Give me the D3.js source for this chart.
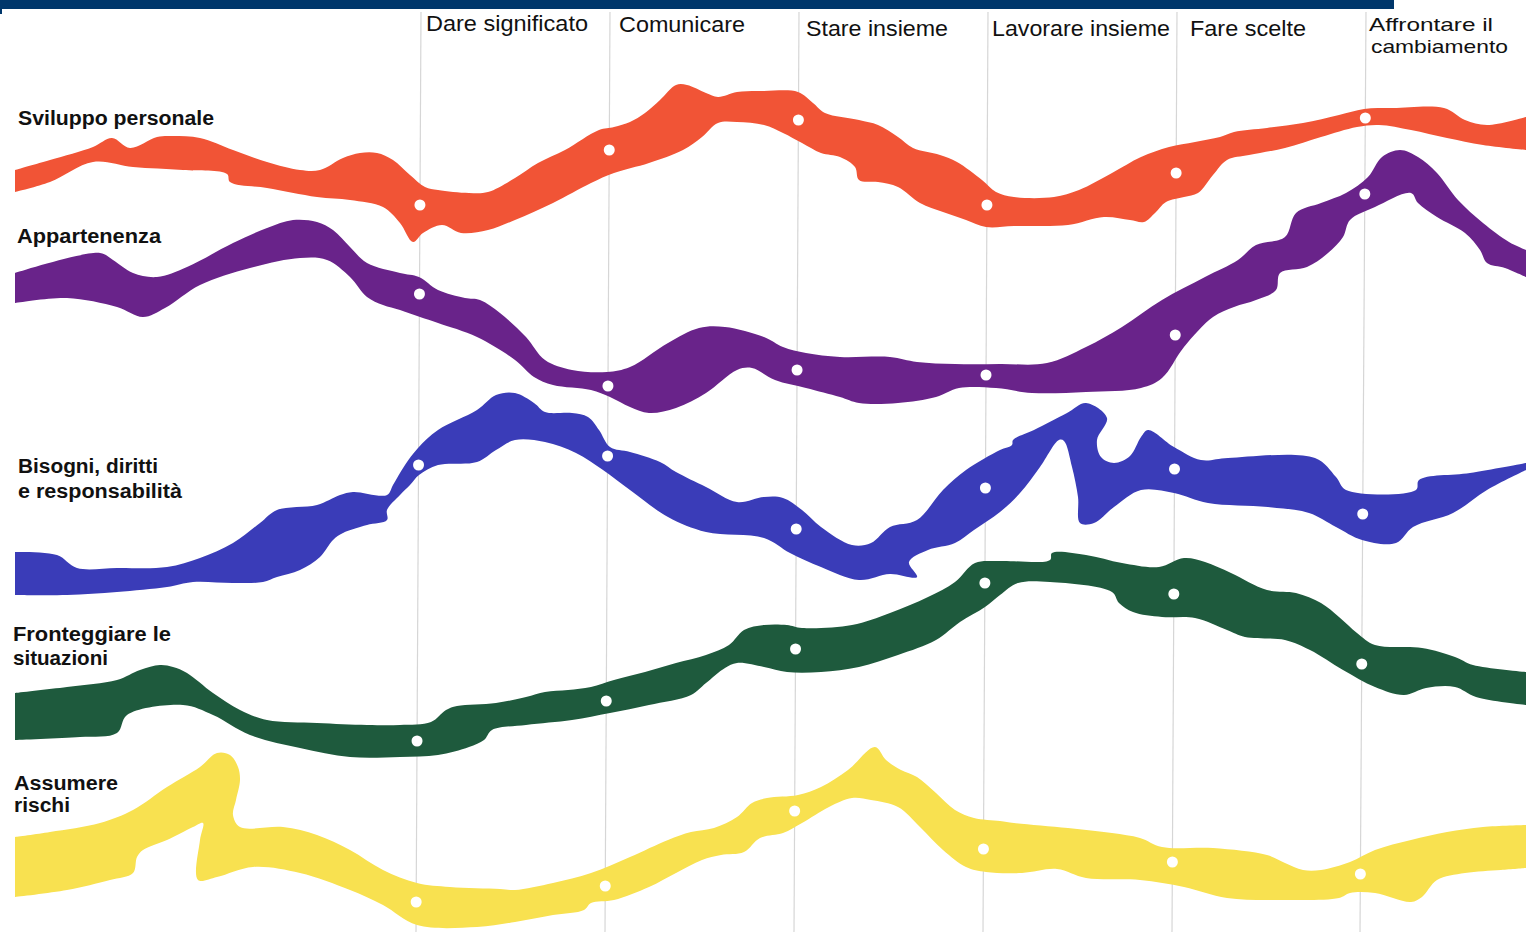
<!DOCTYPE html>
<html><head><meta charset="utf-8">
<script src="https://cdn.jsdelivr.net/npm/d3@7"></script>
<style>html,body{margin:0;padding:0;background:#fff;overflow:hidden}</style>
</head><body><svg id="c" width="1526" height="935"></svg>
<script>
// ---------- DATA ----------
const columns = ["Dare significato", "Comunicare", "Stare insieme", "Lavorare insieme", "Fare scelte", "Affrontare il\ncambiamento"];
const seriesNames = ["Sviluppo personale", "Appartenenza", "Bisogni, diritti\ne responsabilità", "Fronteggiare le\nsituazioni", "Assumere\nrischi"];

// column guide positions (x at top y=12 and at bottom y=932)
const gridTopX = [421, 610, 799, 988, 1177, 1366];
const gridBottomX = [416, 605, 794, 983, 1172, 1360];

// dot levels of each series at each column (y)
const dotsSviluppo = [205, 150, 120, 205, 173, 118];
const dotsAppartenenza = [294, 386, 370, 375, 335, 194];
const dotsBisogni = [465, 456, 529, 488, 469, 514];
const dotsFronteggiare = [741, 701, 649, 583, 594, 664];
const dotsAssumere = [902, 886, 811, 849, 862, 874];

// ribbon outlines [x, y]
const svilTop = [[15,170],[50,160],[93,147],[112,138],[130,148],[157,137],[173,136],[200,138],[233,150],[267,162],[300,170],[320,170],[343,158],[360,153],[377,153],[393,160],[410,175],[425,187],[438,190],[469,193],[488,192],[515,178],[538,163],[565,150],[599,130],[614,127],[630,122],[645,113],[660,100],[676,85],[687,85],[706,93],[718,97],[737,92],[764,91],[798,92],[813,103],[825,113],[859,120],[878,125],[898,137],[913,148],[940,155],[957,162],[982,180],[996,192],[1014,197],[1054,197],[1079,190],[1112,173],[1141,157],[1169,147],[1195,142],[1220,137],[1234,132],[1267,128],[1303,123],[1339,115],[1364,109],[1393,108],[1444,108],[1465,120],[1487,125],[1526,117]];
const svilBottom = [[15,192],[50,182],[93,162],[133,167],[183,170],[227,174],[230,182],[267,188],[317,197],[350,200],[383,207],[400,223],[413,242],[423,233],[442,225],[461,233],[488,230],[515,220],[553,203],[591,183],[614,173],[649,163],[683,150],[702,137],[718,123],[737,122],[764,125],[783,133],[802,143],[821,153],[840,157],[855,167],[859,180],[878,182],[898,187],[920,203],[943,212],[966,220],[986,227],[1014,226],[1068,225],[1104,217],[1130,220],[1144,222],[1155,213],[1166,202],[1184,197],[1198,193],[1213,175],[1227,160],[1249,155],[1285,148],[1321,137],[1357,127],[1379,125],[1411,130],[1447,138],[1483,145],[1526,150]];

const appTop = [[15,273],[100,253],[113,260],[133,273],[157,277],[187,267],[233,243],[267,228],[293,220],[317,222],[333,230],[350,247],[367,263],[400,273],[419,277],[438,290],[465,298],[480,300],[500,313],[526,337],[545,360],[572,370],[607,372],[630,367],[668,343],[699,328],[725,327],[764,337],[783,347],[806,353],[840,357],[890,357],[917,362],[955,364],[1000,364],[1047,363],[1086,347],[1122,327],[1162,300],[1205,277],[1238,260],[1256,245],[1285,237],[1296,213],[1321,203],[1346,193],[1368,177],[1382,157],[1400,150],[1418,157],[1437,173],[1458,200],[1483,223],[1509,242],[1526,250]];
const appBottom = [[15,303],[67,298],[117,307],[143,317],[165,308],[200,285],[250,268],[300,258],[327,260],[350,277],[367,297],[383,305],[400,310],[420,317],[438,323],[477,337],[515,360],[534,377],[553,385],[591,390],[610,397],[630,407],[649,413],[676,408],[706,393],[737,370],[752,368],[775,380],[806,388],[840,397],[859,403],[898,403],[936,397],[959,388],[996,388],[1032,393],[1086,392],[1141,388],[1162,378],[1184,347],[1213,317],[1234,307],[1256,300],[1276,290],[1280,273],[1307,267],[1328,253],[1343,237],[1350,220],[1375,207],[1411,193],[1418,203],[1437,217],[1465,233],[1480,250],[1487,263],[1505,268],[1526,277]];

const bisTop = [[15,552],[57,555],[77,568],[117,568],[167,567],[200,558],[233,543],[260,523],[277,510],[317,505],[340,495],[353,492],[387,495],[393,485],[405,465],[418,448],[438,430],[477,410],[496,395],[515,393],[534,403],[545,412],[572,413],[588,417],[599,430],[610,447],[630,452],[660,462],[676,472],[706,487],[737,502],[764,497],[783,498],[802,510],[821,527],[852,545],[871,543],[890,527],[917,520],[943,490],[966,470],[1000,450],[1012,445],[1013,440],[1034,430],[1067,413],[1086,403],[1107,418],[1097,440],[1101,457],[1114,463],[1130,456],[1141,437],[1148,430],[1174,447],[1201,460],[1228,458],[1315,458],[1336,477],[1346,490],[1416,490],[1419,480],[1470,473],[1526,463]];
const bisBottom = [[15,595],[67,595],[117,592],[167,587],[193,582],[233,583],[263,582],[277,577],[300,570],[320,557],[333,540],[343,533],[367,525],[387,520],[387,510],[400,495],[410,485],[419,475],[438,465],[477,462],[496,450],[515,440],[545,442],[576,453],[603,470],[630,490],[668,517],[706,532],[764,538],[790,553],[821,567],[859,580],[890,574],[917,577],[909,562],[928,550],[955,543],[974,530],[1000,512],[1020,493],[1040,467],[1059,440],[1064,441],[1072,467],[1078,497],[1080,523],[1094,523],[1114,507],[1141,490],[1174,493],[1208,503],[1268,507],[1309,513],[1336,527],[1362,540],[1396,543],[1413,527],[1453,513],[1487,490],[1526,470]];

const froTop = [[15,693],[67,687],[117,680],[140,670],[160,665],[173,667],[187,673],[213,693],[240,710],[267,720],[317,723],[367,725],[400,725],[431,722],[446,710],[457,706],[496,703],[526,697],[545,692],[568,690],[591,687],[614,680],[645,672],[676,663],[706,655],[729,645],[744,630],[764,625],[787,625],[802,628],[852,625],[890,613],[928,597],[955,582],[975,563],[1000,561],[1050,560],[1052,553],[1086,555],[1122,563],[1159,567],[1184,558],[1205,562],[1231,573],[1267,590],[1296,593],[1321,603],[1339,617],[1357,633],[1375,645],[1422,648],[1455,657],[1473,665],[1526,672]];
const froBottom = [[15,740],[80,737],[117,733],[127,715],[183,705],[213,715],[250,735],[300,748],[350,757],[400,757],[438,755],[469,747],[484,740],[492,730],[526,725],[572,720],[610,713],[649,705],[691,695],[706,683],[725,668],[737,663],[764,667],[787,672],[821,672],[859,667],[898,655],[936,640],[960,622],[985,607],[1000,595],[1018,583],[1050,582],[1112,592],[1119,603],[1133,612],[1162,617],[1195,618],[1227,630],[1245,637],[1285,640],[1310,650],[1343,670],[1375,687],[1404,695],[1426,688],[1455,687],[1476,697],[1526,705]];

const assTop = [[15,837],[50,832],[100,823],[133,810],[167,787],[200,767],[217,753],[230,755],[238,767],[240,780],[236,800],[233,815],[240,827],[283,827],[317,835],[350,850],[383,870],[417,883],[450,887],[500,889],[515,890],[553,883],[591,873],[630,857],[668,840],[691,832],[714,828],[737,817],[752,803],[767,798],[798,795],[821,787],[848,770],[875,747],[886,760],[901,770],[917,777],[936,793],[955,810],[974,818],[1000,821],[1014,823],[1068,828],[1112,833],[1140,838],[1162,847],[1213,848],[1267,855],[1285,863],[1303,870],[1321,870],[1350,862],[1375,850],[1411,840],[1447,832],[1483,827],[1526,825]];
const assBottom = [[15,897],[67,890],[110,880],[133,873],[137,857],[143,850],[167,840],[193,827],[203,823],[200,840],[198,880],[217,877],[253,867],[300,873],[350,890],[383,905],[417,925],[477,927],[515,922],[553,915],[584,910],[591,903],[614,900],[649,887],[676,873],[702,860],[721,855],[744,852],[760,838],[783,833],[802,823],[829,807],[852,798],[871,800],[898,807],[920,827],[943,850],[966,867],[986,872],[1022,873],[1057,869],[1086,878],[1140,880],[1184,887],[1227,898],[1285,900],[1339,898],[1350,893],[1375,893],[1411,902],[1422,897],[1437,880],[1465,873],[1501,870],[1526,868]];

// ---------- STYLE / LAYOUT ----------
const palette = ["#f15436", "#69238a", "#3a3cb8", "#1e5a3d", "#f8e150"];
const seriesLabelLayout = [
  [{x:18, y:125, w:196}],
  [{x:17, y:243, w:144}],
  [{x:18, y:473, w:140}, {x:18, y:498, w:164}],
  [{x:13, y:641, w:158}, {x:13, y:665, w:95}],
  [{x:14, y:790, w:104}, {x:14, y:812, w:56}]
];
const columnLabelLayout = [
  [{x:426, y:31, w:162, fs:22}],
  [{x:619, y:32, w:126, fs:22}],
  [{x:806, y:36, w:142, fs:22}],
  [{x:992, y:36, w:178, fs:22}],
  [{x:1190, y:36, w:116, fs:22}],
  [{x:1369, y:31, w:124, fs:19}, {x:1371, y:53, w:137, fs:19}]
];

const W = 1526, H = 935;
const svg = d3.select("#c");
const x = d3.scaleLinear().domain([0, 1526]).range([0, W]);
const y = d3.scaleLinear().domain([0, 935]).range([0, H]);

// top bar
svg.append("rect").attr("x", 0).attr("y", 0).attr("width", x(1394)).attr("height", 9).attr("fill", "#00376b");
svg.append("rect").attr("x", 0).attr("y", 9).attr("width", 2).attr("height", 5).attr("fill", "#00376b");

// column guide lines
const gTop = 12, gBot = 932;
svg.append("g").selectAll("line").data(d3.range(columns.length)).join("line")
  .attr("x1", i => x(gridTopX[i])).attr("y1", y(gTop))
  .attr("x2", i => x(gridBottomX[i])).attr("y2", y(gBot))
  .attr("stroke", "#d6d6d6").attr("stroke-width", 1.2);

const bands = [
  {top: svilTop, bottom: svilBottom, dots: dotsSviluppo},
  {top: appTop, bottom: appBottom, dots: dotsAppartenenza},
  {top: bisTop, bottom: bisBottom, dots: dotsBisogni},
  {top: froTop, bottom: froBottom, dots: dotsFronteggiare},
  {top: assTop, bottom: assBottom, dots: dotsAssumere}
];

const line = d3.line().x(d => x(d[0])).y(d => y(d[1])).curve(d3.curveCatmullRom.alpha(0.5));
const gb = svg.append("g");
bands.forEach((b, i) => {
  const p = line(b.top) + line(b.bottom.slice().reverse()).replace(/^M/, "L") + "Z";
  gb.append("path").attr("d", p).attr("fill", palette[i]);
});

// dots
const colX = (c, yy) => gridTopX[c] + (gridBottomX[c] - gridTopX[c]) * (yy - gTop) / (gBot - gTop);
const gd = svg.append("g");
bands.forEach((b) => {
  gd.selectAll(null).data(b.dots).join("circle")
    .attr("cx", (v, c) => x(colX(c, v))).attr("cy", v => y(v)).attr("r", 5.5).attr("fill", "#fff");
});

// column labels
columns.forEach((name, i) => {
  name.split("\n").forEach((ln, j) => {
    const L = columnLabelLayout[i][j];
    svg.append("text").attr("x", L.x).attr("y", L.y).text(ln)
      .attr("font-family", "'Liberation Sans Narrow','Liberation Sans',Arial,sans-serif")
      .attr("font-size", L.fs).attr("fill", "#111")
      .attr("textLength", L.w).attr("lengthAdjust", "spacingAndGlyphs");
  });
});

// series labels
seriesNames.forEach((name, i) => {
  name.split("\n").forEach((ln, j) => {
    const L = seriesLabelLayout[i][j];
    svg.append("text").attr("x", L.x).attr("y", L.y).text(ln)
      .attr("font-family", "'Liberation Sans',Arial,sans-serif")
      .attr("font-size", 20).attr("font-weight", "bold").attr("fill", "#111")
      .attr("textLength", L.w).attr("lengthAdjust", "spacingAndGlyphs");
  });
});
</script></body></html>
